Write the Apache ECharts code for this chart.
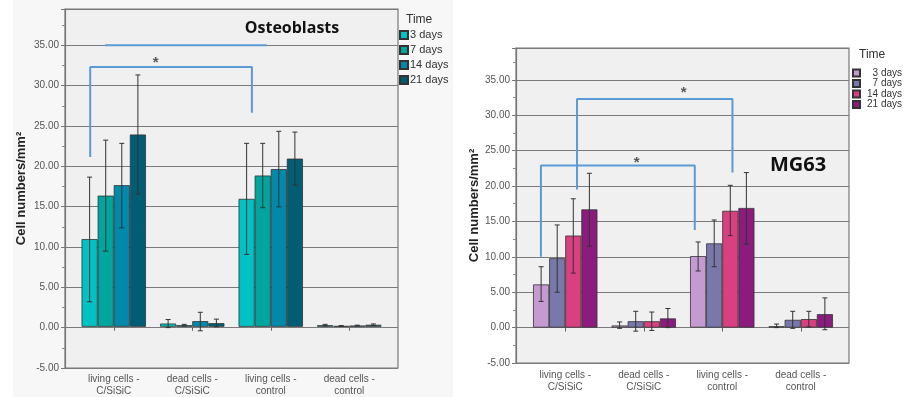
<!DOCTYPE html>
<html>
<head>
<meta charset="utf-8">
<script src="https://cdn.jsdelivr.net/npm/echarts@6/dist/echarts.min.js"></script>
<style>
html, body { margin: 0; padding: 0; background: #fff; }
#chart { width: 905px; height: 397px; }
</style>
</head>
<body>
<div id="chart"></div>
<script>
var categories = ['living cells -\nC/SiSiC', 'dead cells -\nC/SiSiC', 'living cells -\ncontrol', 'dead cells -\ncontrol'];
var days = ['3 days', '7 days', '14 days', '21 days'];

// Osteoblasts: one row per time point, one column per category
var osteoMean = [
	[10.9, 0.4, 15.9, 0.2],
	[16.3, 0.2, 18.8, 0.1],
	[17.6, 0.7, 19.6, 0.15],
	[23.9, 0.45, 20.9, 0.25]
];
var osteoLow = [
	[3.1, -0.1, 9.0, 0.1],
	[9.4, 0.1, 14.8, 0.05],
	[12.3, -0.5, 14.9, 0.1],
	[16.5, 0.0, 17.6, 0.15]
];
var osteoHigh = [
	[18.6, 0.9, 22.8, 0.3],
	[23.2, 0.3, 22.8, 0.15],
	[22.8, 1.8, 24.3, 0.2],
	[31.3, 0.95, 24.2, 0.35]
];

// MG63
var mgMean = [
	[6.1, 0.3, 10.1, 0.2],
	[9.8, 0.9, 11.9, 1.1],
	[13.0, 0.9, 16.5, 1.2],
	[16.7, 1.3, 16.9, 1.9]
];
var mgLow = [
	[3.7, -0.1, 8.0, 0.0],
	[5.0, -0.5, 8.6, -0.1],
	[7.7, -0.4, 13.0, 0.1],
	[11.5, 0.0, 11.8, -0.3]
];
var mgHigh = [
	[8.6, 0.8, 12.1, 0.5],
	[14.5, 2.3, 15.2, 2.3],
	[18.2, 2.2, 20.1, 2.3],
	[21.8, 2.7, 21.9, 4.2]
];

// significance annotations, x in category units (0 = first category centre)
var osteoBracket = [[-0.30, 21.1], [-0.30, 32.3], [1.76, 32.3], [1.76, 26.6]];
var osteoLine35 = [[-0.11, 35], [1.95, 35]];
var osteoStars = [[0.535, 32.8]];
var mgBracketA = [[0.15, 19.5], [0.15, 32.3], [2.13, 32.3], [2.13, 21.9]];
var mgBracketB = [[-0.31, 10.0], [-0.31, 22.9], [1.65, 22.9], [1.65, 13.8]];
var mgStars = [[1.51, 33.2], [0.91, 23.3]];

var osteoColors = ['#00c2c4', '#00a59e', '#0089aa', '#005d74'];
var mgColors = ['#c49ad0', '#7878aa', '#d8407f', '#8b1c7e'];

var font = 'Liberation Sans, Arial, sans-serif';
var gapPct = 0.18;
var bracketColor = '#5b9bd5';

function frameY(gridIndex, nameGap) {
	return {
		type: 'value', gridIndex: gridIndex, min: -5, max: 39.5, interval: 5,
		name: 'Cell numbers/mm²', nameLocation: 'middle', nameRotate: 90, nameGap: nameGap,
		nameTextStyle: { fontFamily: font, fontWeight: 'bold', fontSize: 13, color: '#222' },
		axisLine: { show: true, lineStyle: { color: '#777', width: 1.2 } },
		axisTick: { show: true, length: 4, lineStyle: { color: '#777' } },
		minorTick: { show: true, splitNumber: 2, length: 3, lineStyle: { color: '#888' } },
		axisLabel: {
			fontFamily: font, fontSize: 10, color: '#555', margin: 6, showMaxLabel: false,
			formatter: function(v) { return v.toFixed(2); }
		},
		splitLine: { show: true, lineStyle: { color: '#7a7a7a', width: 1.2 } }
	};
}

function hiddenY(gridIndex) {
	return { type: 'value', gridIndex: gridIndex, min: -5, max: 39.5, show: false };
}

function catX(gridIndex) {
	return {
		type: 'category', gridIndex: gridIndex, data: categories,
		axisLine: { show: false },
		axisTick: { show: true, alignWithLabel: true, length: 4, lineStyle: { color: '#666' } },
		axisLabel: { fontFamily: font, fontSize: 10, color: '#555', margin: 6, lineHeight: 12 }
	};
}

function barSeries(prefix, means, colors, xi, yi) {
	return means.map(function(row, d) {
		return {
			name: prefix + '|' + days[d], type: 'bar', xAxisIndex: xi, yAxisIndex: yi,
			data: row, barGap: 0, barCategoryGap: (gapPct * 100) + '%',
			itemStyle: { color: colors[d], borderColor: '#333', borderWidth: 0.8 },
			z: 3
		};
	});
}

function errorSeries(low, high, xi, yi) {
	var data = [];
	low.forEach(function(row, d) {
		row.forEach(function(v, c) { data.push([c, d, v, high[d][c]]); });
	});
	return {
		type: 'custom', xAxisIndex: xi, yAxisIndex: yi, z: 5, silent: true,
		renderItem: function(params, api) {
			var c = api.value(0), d = api.value(1);
			var band = api.size([1, 0])[0];
			var bw = band * (1 - gapPct) / 4;
			var lo = api.coord([c, api.value(2)]);
			var hi = api.coord([c, api.value(3)]);
			var x = lo[0] + (d - 1.5) * bw;
			var style = { stroke: '#333', lineWidth: 1 };
			return {
				type: 'group',
				children: [
					{ type: 'line', shape: { x1: x, y1: lo[1], x2: x, y2: hi[1] }, style: style },
					{ type: 'line', shape: { x1: x - 2.5, y1: lo[1], x2: x + 2.5, y2: lo[1] }, style: style },
					{ type: 'line', shape: { x1: x - 2.5, y1: hi[1], x2: x + 2.5, y2: hi[1] }, style: style }
				]
			};
		},
		data: data
	};
}

function bracket(points, xi, yi) {
	return {
		type: 'line', xAxisIndex: xi, yAxisIndex: yi, data: points, symbol: 'none',
		lineStyle: { color: bracketColor, width: 2 }, z: 6, silent: true
	};
}

function stars(points, xi, yi) {
	return {
		type: 'scatter', xAxisIndex: xi, yAxisIndex: yi, data: points, symbolSize: 1,
		itemStyle: { color: 'transparent' }, z: 7, silent: true,
		label: { show: true, position: 'inside', formatter: '*', fontSize: 15, fontWeight: 'bold', color: '#333', fontFamily: font }
	};
}

var series = []
	.concat(barSeries('O', osteoMean, osteoColors, 1, 1))
	.concat([errorSeries(osteoLow, osteoHigh, 1, 1)])
	.concat([bracket(osteoBracket, 2, 1), bracket(osteoLine35, 2, 1), stars(osteoStars, 2, 1)])
	.concat(barSeries('M', mgMean, mgColors, 4, 3))
	.concat([errorSeries(mgLow, mgHigh, 4, 3)])
	.concat([bracket(mgBracketA, 5, 3), bracket(mgBracketB, 5, 3), stars(mgStars, 5, 3)]);

var option = {
	animation: false,
	backgroundColor: '#fff',
	grid: [
		{ left: 65, top: 9, width: 333, height: 359, show: true, backgroundColor: '#f0f0f0', borderColor: '#777', borderWidth: 1.2, z: 0 },
		{ left: 74.5, top: 9, width: 314, height: 359 },
		{ left: 516, top: 48, width: 333, height: 315, show: true, backgroundColor: '#f0f0f0', borderColor: '#777', borderWidth: 1.2, z: 0 },
		{ left: 526, top: 48, width: 314, height: 315 }
	],
	xAxis: [
		{ type: 'value', gridIndex: 0, show: false, min: 0, max: 1 },
		catX(1),
		{ type: 'value', gridIndex: 1, show: false, min: -0.5, max: 3.5 },
		{ type: 'value', gridIndex: 2, show: false, min: 0, max: 1 },
		catX(3),
		{ type: 'value', gridIndex: 3, show: false, min: -0.5, max: 3.5 }
	],
	yAxis: [frameY(0, 37), hiddenY(1), frameY(2, 33), hiddenY(3)],
	legend: [
		{
			orient: 'vertical', left: 399, top: 29, padding: 0, icon: 'rect', itemWidth: 8, itemHeight: 8, itemGap: 3,
			data: days.map(function(d) { return 'O|' + d; }),
			formatter: function(n) { return n.split('|')[1]; },
			textStyle: { fontFamily: font, fontSize: 11, lineHeight: 12, color: '#333', padding: [0, 0, 0, -3] },
			selectedMode: false
		},
		{
			orient: 'vertical', left: 852, top: 68, padding: 0, icon: 'rect', itemWidth: 7, itemHeight: 7, itemGap: 0.5,
			data: days.map(function(d) { return 'M|' + d; }),
			formatter: function(n) { return '{r|' + n.split('|')[1] + '}'; },
			textStyle: {
				fontFamily: font, fontSize: 10, lineHeight: 10, color: '#333',
				rich: { r: { width: 37, align: 'right', fontFamily: font, fontSize: 10, lineHeight: 10, color: '#333' } }
			},
			selectedMode: false
		}
	],
	graphic: [
		{ type: 'rect', shape: { x: 13, y: 0, width: 440, height: 397 }, style: { fill: '#f7f7f7' }, z: -10, silent: true },
		{ type: 'text', x: 406, y: 20, style: { text: 'Time', font: '12px ' + font, fill: '#333', textVerticalAlign: 'middle' } },
		{ type: 'text', x: 859, y: 55, style: { text: 'Time', font: '12px ' + font, fill: '#333', textVerticalAlign: 'middle' } },
		{ type: 'text', x: 292, y: 28, z: 10, style: { text: 'Osteoblasts', font: 'bold 16px "Open Sans", sans-serif', fill: '#111', textAlign: 'center', textVerticalAlign: 'middle' } },
		{ type: 'text', x: 798, y: 165, z: 10, style: { text: 'MG63', font: 'bold 20px "Open Sans", sans-serif', fill: '#111', textAlign: 'center', textVerticalAlign: 'middle' } }
	],
	series: series
};

var chart = echarts.init(document.getElementById('chart'));
chart.setOption(option);
</script>
</body>
</html>
